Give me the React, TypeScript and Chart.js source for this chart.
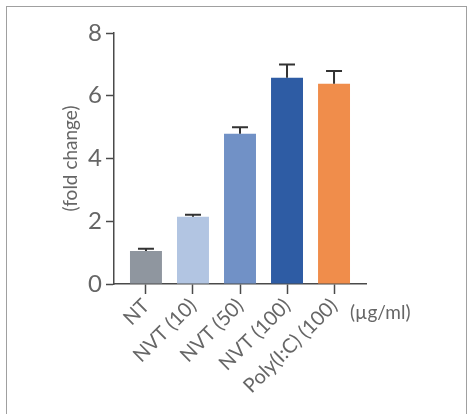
import React, { useEffect, useRef } from "react";
import { Chart, registerables } from "chart.js";

Chart.register(...registerables);

const categories = ["NT", "NVT (10)", "NVT (50)", "NVT (100)", "Poly(I:C) (100)"];
const means = [1.05, 2.14, 4.79, 6.57, 6.38];
const errors = [0.07, 0.07, 0.21, 0.43, 0.41];
const barColors = ["#8f969f", "#b2c5e2", "#7191c6", "#2e5ca4", "#f08d4b"];
const yTicks = [0, 2, 4, 6, 8];
const yTitle = "(fold change)";
const unitLabel = "(µg/ml)";

const FONT = "Lato, 'Open Sans', sans-serif";
const AXIS = "#4a4a4a";
const TEXT = "#666666";

const errorBarPlugin = {
  id: "errorBars",
  afterDatasetsDraw(chart: any) {
    const meta = chart.getDatasetMeta(0);
    const yScale = chart.scales.y;
    const ctx = chart.ctx;
    ctx.save();
    ctx.strokeStyle = "#333333";
    ctx.lineWidth = 2;
    meta.data.forEach((bar: any, i: number) => {
      const top = yScale.getPixelForValue(means[i] + errors[i]);
      const base = yScale.getPixelForValue(means[i]);
      const half = bar.width / 4;
      ctx.beginPath();
      ctx.moveTo(bar.x, base);
      ctx.lineTo(bar.x, top);
      ctx.moveTo(bar.x - half, top);
      ctx.lineTo(bar.x + half, top);
      ctx.stroke();
    });
    ctx.restore();
  },
};

const unitPlugin = {
  id: "unitLabel",
  afterDraw(chart: any) {
    const { ctx, chartArea } = chart;
    ctx.save();
    ctx.font = `400 19px ${FONT}`;
    ctx.fillStyle = TEXT;
    ctx.textAlign = "left";
    ctx.textBaseline = "middle";
    ctx.fillText(unitLabel, chartArea.right - 16, chartArea.bottom + 29);
    ctx.restore();
  },
};

export default function App() {
  const ref = useRef<HTMLCanvasElement | null>(null);

  useEffect(() => {
    let chart: Chart | null = null;
    let cancelled = false;
    const make = () => {
      if (cancelled || !ref.current) return;
      chart = new Chart(ref.current, {
        type: "bar",
        data: {
          datasets: [
            {
              data: means.map((v, i) => ({ x: i, y: v })),
              backgroundColor: barColors,
              borderWidth: 0,
              barPercentage: 0.85,
              categoryPercentage: 0.8,
            },
          ],
        },
        options: {
          animation: false,
          responsive: false,
          maintainAspectRatio: false,
          layout: { padding: { left: 55, right: 104, top: 33, bottom: 0 } },
          plugins: { legend: { display: false }, tooltip: { enabled: false } },
          scales: {
            x: {
              type: "linear",
              offset: false,
              min: -0.68,
              max: 4.68,
              afterBuildTicks: (scale: any) => {
                scale.ticks = categories.map((_, i) => ({ value: i }));
              },
              afterFit: (scale: any) => {
                scale.height = 130;
                scale.paddingLeft = 0;
                scale.paddingRight = 0;
              },
              ticks: {
                autoSkip: false,
                minRotation: 45,
                maxRotation: 45,
                padding: 0,
                color: TEXT,
                font: { family: FONT, size: 20, weight: "400" as any },
                callback: (v: any) => categories[v] ?? "",
              },
              grid: {
                display: true,
                offset: false,
                drawOnChartArea: false,
                drawTicks: true,
                tickLength: 10,
                tickWidth: 1.5,
                tickColor: AXIS,
              },
              border: { display: true, color: AXIS, width: 1.5 },
            },
            y: {
              min: 0,
              max: 8,
              afterBuildTicks: (scale: any) => {
                scale.ticks = yTicks.map((v) => ({ value: v }));
              },
              afterFit: (scale: any) => {
                scale.width = 59;
                scale.paddingTop = 0;
                scale.paddingBottom = 0;
              },
              ticks: {
                padding: 4,
                color: TEXT,
                font: { family: FONT, size: 24, weight: "400" as any },
              },
              grid: {
                display: true,
                drawOnChartArea: false,
                drawTicks: true,
                tickLength: 8,
                tickWidth: 1.5,
                tickColor: AXIS,
              },
              border: { display: true, color: AXIS, width: 1.5 },
              title: {
                display: true,
                text: yTitle,
                color: TEXT,
                font: { family: FONT, size: 19, weight: "400" as any },
                padding: { top: 4, bottom: 0 },
              },
            },
          },
        },
        plugins: [errorBarPlugin, unitPlugin],
      } as any);
    };
    const fonts: any = (document as any).fonts;
    if (fonts && fonts.load) {
      Promise.all([fonts.load(`400 18px Lato`)])
        .catch(() => null)
        .then(make);
    } else {
      make();
    }
    return () => {
      cancelled = true;
      if (chart) chart.destroy();
    };
  }, []);

  return (
    <div
      style={{
        position: "fixed",
        left: 0,
        top: 0,
        width: 470,
        height: 414,
        background: "#ffffff",
        overflow: "hidden",
      }}
    >
      <div
        style={{
          position: "absolute",
          left: 6,
          top: 6,
          width: 461,
          height: 420,
          borderLeft: "1.5px solid #a0a0a0",
          borderTop: "1.5px solid #a0a0a0",
          borderRight: "1.5px solid #a0a0a0",
          boxSizing: "border-box",
        }}
      />
      <canvas
        ref={ref}
        width={470}
        height={414}
        style={{ position: "absolute", left: 0, top: 0, width: 470, height: 414 }}
      />
    </div>
  );
}
